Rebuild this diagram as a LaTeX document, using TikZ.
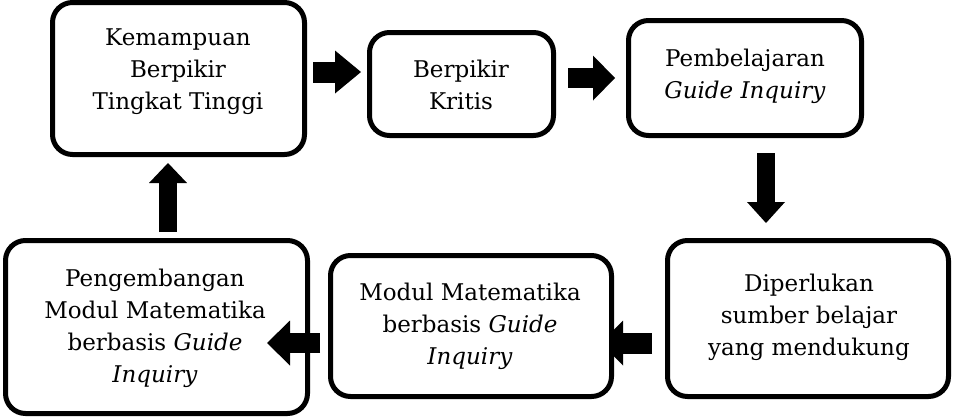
\documentclass[tikz,border=0pt]{standalone}
\usepackage{fontspec}
\setmainfont{DejaVu Serif}
\usetikzlibrary{arrows.meta}
\pgfdeclarelayer{background}
\pgfsetlayers{background,main}
\begin{document}
\begin{tikzpicture}[x=1pt,y=-1pt,
  box/.style={draw=black, fill=white, line width=5pt, rounded corners=20pt, outer sep=2.5pt, inner sep=0pt},
  txt/.style={align=center, inner sep=0pt, font=\fontsize{23}{32}\selectfont},
]
\useasboundingbox (0,0) rectangle (956,416);

% boxes
\node[box, minimum width=252pt, minimum height=152pt] (b1) at (178.5,78.5) {};
\node[box, minimum width=184pt, minimum height=103pt] (b2) at (461.5,84) {};
\node[box, minimum width=233pt, minimum height=115pt] (b3) at (745,78) {};
\node[box, minimum width=281pt, minimum height=156pt] (b4) at (808,318.5) {};
\node[box, minimum width=281pt, minimum height=141pt] (b5) at (471,326) {};
\node[box, minimum width=302pt, minimum height=173pt] (b6) at (156.5,327) {};

% texts
\node[txt] (t1) at (178,72) {Kemampuan\\Berpikir\\Tingkat Tinggi};
\node[txt] (t2) at (461,85) {Berpikir\\Kritis};
\node[txt] (t3) at (745,76) {Pembelajaran\\\textit{Guide Inquiry}};
\node[txt] (t4) at (809,317) {Diperlukan\\sumber belajar\\yang mendukung};
\node[txt] (t5) at (470,326) {Modul Matematika\\berbasis \textit{Guide}\\\textit{Inquiry}};
\node[txt] (t6) at (155,328) {Pengembangan\\Modul Matematika\\berbasis \textit{Guide}\\\textit{Inquiry}};

% block arrows
\draw[line width=21pt, -{Triangle[length=26pt,width=43pt,line width=0pt]}, shorten <=6pt, shorten >=6pt]
  (b1.east |- 0,72) -- (b2.west |- 0,72);
\draw[line width=20pt, -{Triangle[length=22pt,width=45pt,line width=0pt]}, shorten <=12pt, shorten >=11pt]
  (b2.east |- 0,78) -- (b3.west |- 0,78);
\draw[line width=18pt, -{Triangle[length=21pt,width=38pt,line width=0pt]}, shorten <=15pt, shorten >=15pt]
  (b3.south -| 766,0) -- (b4.north -| 766,0);
\begin{pgfonlayer}{background}
\draw[line width=21pt, -{Triangle[length=22pt,width=45pt,line width=0pt]}, shorten <=13pt, shorten >=-13pt]
  (b4.west |- 0,343) -- (b5.east |- 0,343);
\end{pgfonlayer}
\draw[line width=20pt, -{Triangle[length=23pt,width=45pt,line width=0pt]}, shorten <=8pt, shorten >=-43pt]
  (b5.west |- 0,343) -- (b6.east |- 0,343);
\draw[line width=18pt, -{Triangle[length=20pt,width=38pt,line width=0pt]}, shorten <=6pt, shorten >=6pt]
  (b6.north -| 168,0) -- (b1.south -| 168,0);
\end{tikzpicture}
\end{document}
